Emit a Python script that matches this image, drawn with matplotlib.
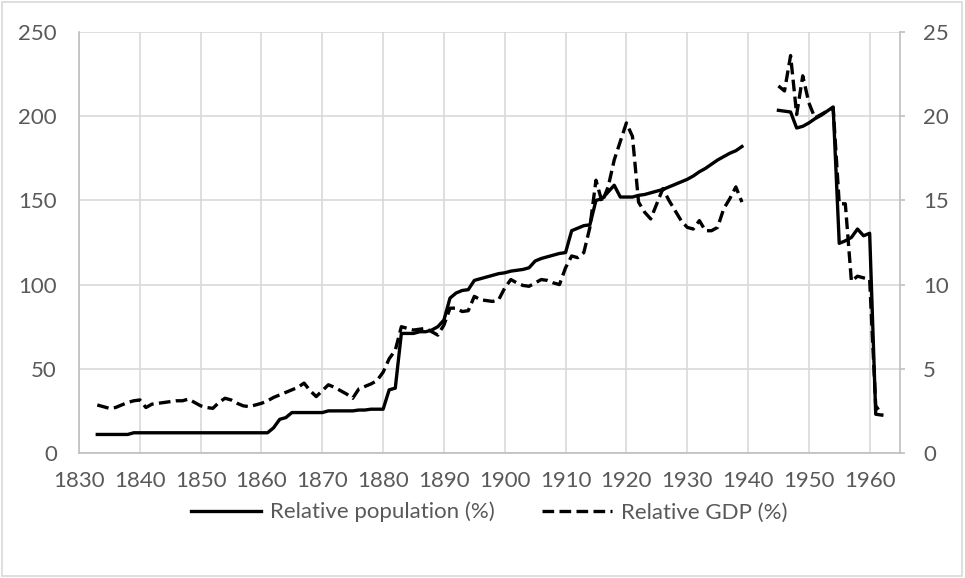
import numpy as np
import matplotlib.pyplot as plt
from matplotlib.patches import Rectangle

nan = np.nan

# yearly categories, 1833-1962 (gap 1940-1944)
years = list(range(1833, 1963))

# relative population (%), left axis
population = [
    11, 11, 11, 11, 11, 11,                                   # 1833-1838
    12, 12, 12, 12, 12, 12, 12, 12, 12, 12, 12, 12,           # 1839-1850
    12, 12, 12, 12, 12, 12, 12, 12, 12, 12, 12,               # 1851-1861
    15, 20, 21, 24, 24, 24, 24, 24, 24,                       # 1862-1870
    25, 25, 25, 25, 25, 25.5, 25.5, 26, 26, 26,               # 1871-1880
    37.5, 38.5, 71, 71, 71, 72, 72, 73, 75, 79,               # 1881-1890
    92, 95, 96.5, 97, 102.5, 103.5, 104.5, 105.5, 106.5, 107, # 1891-1900
    108, 108.5, 109, 110, 114, 115.5, 116.5, 117.5, 118.5, 119,  # 1901-1910
    132, 133.5, 135, 135.5, 150, 151, 155, 159, 152, 152,     # 1911-1920
    152, 153, 153.5, 154.5, 155.5, 156.5, 158, 159.5, 161, 162.5,  # 1921-1930
    164.5, 167, 169, 171.5, 174, 176, 178, 179.5, 182,        # 1931-1939
    nan, nan, nan, nan, nan,                                  # 1940-1944
    203.5, 203, 202.5, 193, 194, 196, 198.5, 200.5, 203, 205.5,  # 1945-1954
    124.5, 126, 128, 133, 129, 130.5, 23, 22.5,               # 1955-1962
]

# relative GDP (%), right axis
gdp = [
    2.85, 2.75, 2.65, 2.7, 2.85, 3.0, 3.1, 3.15,               # 1833-1840
    2.7, 2.9, 2.95, 3.0, 3.05, 3.1, 3.1, 3.2, 3.0, 2.8,        # 1841-1850
    2.7, 2.65, 3.0, 3.25, 3.15, 2.95, 2.8, 2.75, 2.85, 2.95,   # 1851-1860
    3.1, 3.3, 3.45, 3.6, 3.75, 3.9, 4.15, 3.7, 3.35, 3.7,      # 1861-1870
    4.05, 3.9, 3.7, 3.5, 3.25, 3.8, 3.95, 4.1, 4.3, 4.8,       # 1871-1880
    5.6, 6.1, 7.5, 7.4, 7.3, 7.35, 7.4, 7.2, 7.0, 7.6,         # 1881-1890
    8.6, 8.6, 8.4, 8.45, 9.3, 9.1, 9.05, 9.0, 9.1, 9.8,        # 1891-1900
    10.3, 10.1, 9.95, 9.9, 10.1, 10.3, 10.25, 10.1, 10.0, 11.0,  # 1901-1910
    11.7, 11.6, 11.9, 13.4, 16.2, 14.9, 15.8, 17.4, 18.5, 19.6,  # 1911-1920
    18.8, 14.9, 14.3, 13.9, 14.8, 15.7, 15.0, 14.4, 13.8, 13.4,  # 1921-1930
    13.3, 13.8, 13.2, 13.2, 13.4, 14.5, 15.1, 15.8, 14.9,      # 1931-1939
    nan, nan, nan, nan, nan,                                   # 1940-1944
    21.8, 21.5, 23.6, 20.1, 22.4, 20.8, 19.9, 20.1, 20.3, 20.5,  # 1945-1954
    14.8, 14.8, 10.2, 10.5, 10.4, 10.3, 2.8, 2.3,              # 1955-1962
]

x_ticks = list(range(1830, 1970, 10))
left_ticks = [0, 50, 100, 150, 200, 250]
right_ticks = [0, 5, 10, 15, 20, 25]

plt.rcParams['font.family'] = ['Lato', 'DejaVu Sans']
text_grey = '#595959'
grid_grey = '#d9d9d9'
axis_grey = '#bfbfbf'
fs = 16

fig = plt.figure(figsize=(9.65, 5.78), dpi=100)
ax = fig.add_axes([0.0819, 0.2163, 0.8508, 0.7283])
ax2 = ax.twinx()

l1, = ax.plot(years, population, color='black', lw=2.4, solid_joinstyle='round')
l2, = ax2.plot(years, gdp, color='black', lw=2.4, ls=(0, (3.5, 1.6)))

ax.set_xlim(1830, 1965)
ax.set_ylim(0, 250)
ax2.set_ylim(0, 25)
ax.set_xticks(x_ticks)
ax.set_yticks(left_ticks)
ax2.set_yticks(right_ticks)

ax.grid(color=grid_grey, lw=1.2)
ax.set_axisbelow(True)

for s in ['top', 'right']:
    ax.spines[s].set_visible(False)
for s in ['left', 'bottom']:
    ax.spines[s].set_color(axis_grey)
    ax.spines[s].set_linewidth(1.2)
for s in ['top', 'left', 'bottom']:
    ax2.spines[s].set_visible(False)
ax2.spines['right'].set_color(axis_grey)
ax2.spines['right'].set_linewidth(1.2)

ax.tick_params(axis='x', length=0, colors=text_grey, labelsize=fs, pad=13)
ax.tick_params(axis='y', length=0, colors=text_grey, labelsize=fs, pad=16)
ax2.tick_params(axis='y', length=3.6, width=1.2, color=axis_grey,
                labelcolor=text_grey, labelsize=fs, pad=13)

fig.legend([l1, l2], ['Relative population (%)', 'Relative GDP (%)'],
           loc='center', bbox_to_anchor=(0.507, 0.114), ncol=2, frameon=False,
           fontsize=fs, handlelength=3.15, handletextpad=0.4,
           columnspacing=2.1, labelcolor=text_grey)

# light chart-area border
fig.patches.append(Rectangle((0.002, 0.003), 0.995, 0.994, transform=fig.transFigure,
                             fill=False, edgecolor=grid_grey, lw=1.2))

fig.savefig('out.png', dpi=100)
